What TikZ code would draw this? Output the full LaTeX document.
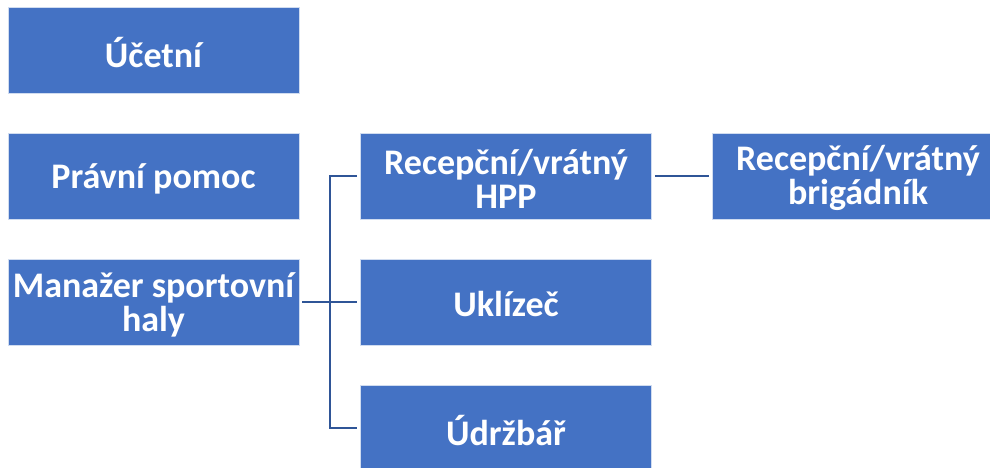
\documentclass[tikz,border=0pt]{standalone}
\usepackage{fontspec}
\setmainfont{Carlito}
\definecolor{boxblue}{HTML}{4472C4}
\definecolor{linkblue}{HTML}{2F5597}
\begin{document}
\begin{tikzpicture}[x=0.75pt,y=-0.75pt,
  orgbox/.style={rectangle, fill=boxblue, draw=white!75!boxblue, line width=0.5pt,
    minimum width=218.25pt, minimum height=64.5pt, inner sep=0pt},
  boxtext/.style={inner sep=0pt, align=center, text=white, yshift=-1.8pt,
    font=\fontsize{27pt}{25.5pt}\selectfont\bfseries},
  link/.style={draw=linkblue, line width=1.7pt}]
\useasboundingbox (0,0) rectangle (990,468);
\clip (0,0) rectangle (990,468);
% left column
\node[orgbox, label={[boxtext]center:Účetní}] (uct) at (153.5,50) {};
\node[orgbox, label={[boxtext]center:Právní pomoc}] (prav) at (153.5,176) {};
\node[orgbox, label={[boxtext]center:Manažer sportovní\\haly}] (man) at (153.5,302) {};
% middle column
\node[orgbox, label={[boxtext]center:Recepční/vrátný\\HPP}] (hpp) at (506,176) {};
\node[orgbox, label={[boxtext]center:Uklízeč}] (ukl) at (506,302) {};
\node[orgbox, label={[boxtext]center:Údržbář}] (udr) at (506,428) {};
% right column
\node[orgbox, label={[boxtext]center:Recepční/vrátný\\brigádník}] (brig) at (858,176) {};
% connectors
\coordinate (bus) at (330,302);
\draw[link] ([xshift=2.25pt]man.east) -- ([xshift=-2.25pt]ukl.west);
\draw[link] ([xshift=-2.25pt]hpp.west) -| (bus) |- ([xshift=-2.25pt]udr.west);
\draw[link] ([xshift=2.25pt]hpp.east) -- ([xshift=-2.25pt]brig.west);
\end{tikzpicture}
\end{document}
